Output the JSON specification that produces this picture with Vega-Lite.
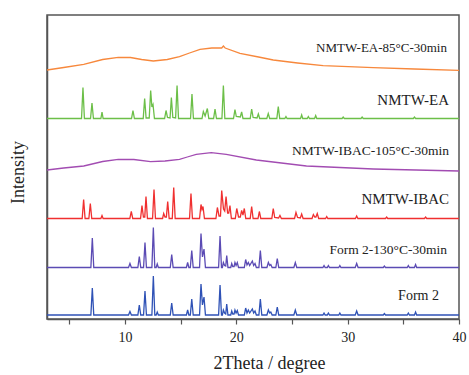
{
  "$schema": "https://vega.github.io/schema/vega-lite/v6.json",
  "width": 412,
  "height": 304,
  "autosize": "none",
  "padding": {"left": 47, "top": 15, "right": 10, "bottom": 56},
  "background": "white",
  "config": {
    "view": {"stroke": "#555", "strokeWidth": 1.5},
    "font": "Liberation Serif"
  },
  "datasets": {
    "traces": [
      {"s":"F2","x":3,"y":4},{"s":"F2","x":6.94,"y":4},{"s":"F2","x":7.07,"y":31},{"s":"F2","x":7.2,"y":4},
      {"s":"F2","x":10.32,"y":4},{"s":"F2","x":10.45,"y":7.5},{"s":"F2","x":10.58,"y":4},
      {"s":"F2","x":11.16,"y":4},{"s":"F2","x":11.29,"y":14},{"s":"F2","x":11.42,"y":4},
      {"s":"F2","x":11.67,"y":4},{"s":"F2","x":11.8,"y":28},{"s":"F2","x":11.93,"y":4},
      {"s":"F2","x":12.42,"y":4},{"s":"F2","x":12.55,"y":43},{"s":"F2","x":12.68,"y":4},
      {"s":"F2","x":12.8,"y":4},{"s":"F2","x":12.9,"y":7},{"s":"F2","x":13.0,"y":4},
      {"s":"F2","x":14.07,"y":4},{"s":"F2","x":14.2,"y":16},{"s":"F2","x":14.33,"y":4},
      {"s":"F2","x":15.52,"y":4},{"s":"F2","x":15.63,"y":9},{"s":"F2","x":15.74,"y":4},
      {"s":"F2","x":15.87,"y":4},{"s":"F2","x":16.0,"y":20},{"s":"F2","x":16.13,"y":4},
      {"s":"F2","x":16.7,"y":4},{"s":"F2","x":16.83,"y":35},{"s":"F2","x":16.96,"y":14},{"s":"F2","x":17.1,"y":22},{"s":"F2","x":17.23,"y":4},
      {"s":"F2","x":18.41,"y":4},{"s":"F2","x":18.54,"y":34},{"s":"F2","x":18.67,"y":4},
      {"s":"F2","x":18.75,"y":4},{"s":"F2","x":18.84,"y":9},{"s":"F2","x":18.95,"y":6},
      {"s":"F2","x":19.05,"y":5},{"s":"F2","x":19.14,"y":15},{"s":"F2","x":19.25,"y":4},
      {"s":"F2","x":19.5,"y":4},{"s":"F2","x":19.59,"y":8},{"s":"F2","x":19.68,"y":5},
      {"s":"F2","x":19.8,"y":5},{"s":"F2","x":19.88,"y":9},{"s":"F2","x":19.98,"y":6},{"s":"F2","x":20.09,"y":8.5},{"s":"F2","x":20.2,"y":4},
      {"s":"F2","x":20.72,"y":4},{"s":"F2","x":20.84,"y":11},{"s":"F2","x":20.96,"y":6},{"s":"F2","x":21.08,"y":9},{"s":"F2","x":21.2,"y":6},{"s":"F2","x":21.44,"y":10},{"s":"F2","x":21.56,"y":6},{"s":"F2","x":21.68,"y":8},{"s":"F2","x":21.8,"y":4},
      {"s":"F2","x":22.03,"y":4},{"s":"F2","x":22.16,"y":20},{"s":"F2","x":22.29,"y":4},
      {"s":"F2","x":22.75,"y":4},{"s":"F2","x":22.88,"y":9},{"s":"F2","x":23.0,"y":6},{"s":"F2","x":23.1,"y":7},{"s":"F2","x":23.22,"y":4},
      {"s":"F2","x":23.55,"y":4},{"s":"F2","x":23.68,"y":12},{"s":"F2","x":23.81,"y":4},
      {"s":"F2","x":25.17,"y":4},{"s":"F2","x":25.3,"y":9},{"s":"F2","x":25.43,"y":4},
      {"s":"F2","x":27.78,"y":4},{"s":"F2","x":27.88,"y":6},{"s":"F2","x":27.98,"y":4},
      {"s":"F2","x":28.17,"y":4},{"s":"F2","x":28.27,"y":6},{"s":"F2","x":28.37,"y":4},
      {"s":"F2","x":29.2,"y":4},{"s":"F2","x":29.3,"y":6},{"s":"F2","x":29.4,"y":4},
      {"s":"F2","x":30.68,"y":4},{"s":"F2","x":30.81,"y":8},{"s":"F2","x":30.94,"y":4},
      {"s":"F2","x":33.2,"y":4},{"s":"F2","x":33.3,"y":5.5},{"s":"F2","x":33.4,"y":4},
      {"s":"F2","x":35.35,"y":4},{"s":"F2","x":35.45,"y":6},{"s":"F2","x":35.55,"y":4},
      {"s":"F2","x":36.0,"y":4},{"s":"F2","x":36.1,"y":7},{"s":"F2","x":36.2,"y":4},
      {"s":"F2","x":40,"y":4},

      {"s":"F2H","x":3,"y":51.5},{"s":"F2H","x":6.94,"y":51.5},{"s":"F2H","x":7.07,"y":81},{"s":"F2H","x":7.2,"y":51.5},
      {"s":"F2H","x":10.32,"y":51.5},{"s":"F2H","x":10.45,"y":55.5},{"s":"F2H","x":10.58,"y":51.5},
      {"s":"F2H","x":11.16,"y":51.5},{"s":"F2H","x":11.29,"y":62.5},{"s":"F2H","x":11.42,"y":51.5},
      {"s":"F2H","x":11.67,"y":51.5},{"s":"F2H","x":11.8,"y":76.5},{"s":"F2H","x":11.93,"y":51.5},
      {"s":"F2H","x":12.42,"y":51.5},{"s":"F2H","x":12.55,"y":91.5},{"s":"F2H","x":12.68,"y":51.5},
      {"s":"F2H","x":12.8,"y":51.5},{"s":"F2H","x":12.9,"y":55},{"s":"F2H","x":13.0,"y":51.5},
      {"s":"F2H","x":14.07,"y":51.5},{"s":"F2H","x":14.2,"y":64.5},{"s":"F2H","x":14.33,"y":51.5},
      {"s":"F2H","x":15.52,"y":51.5},{"s":"F2H","x":15.63,"y":56.5},{"s":"F2H","x":15.74,"y":51.5},
      {"s":"F2H","x":15.87,"y":51.5},{"s":"F2H","x":16.0,"y":68.5},{"s":"F2H","x":16.13,"y":51.5},
      {"s":"F2H","x":16.7,"y":51.5},{"s":"F2H","x":16.83,"y":85.5},{"s":"F2H","x":16.96,"y":62},{"s":"F2H","x":17.1,"y":70},{"s":"F2H","x":17.23,"y":51.5},
      {"s":"F2H","x":18.41,"y":51.5},{"s":"F2H","x":18.54,"y":83},{"s":"F2H","x":18.67,"y":51.5},
      {"s":"F2H","x":18.75,"y":51.5},{"s":"F2H","x":18.84,"y":56.5},{"s":"F2H","x":18.95,"y":53.5},
      {"s":"F2H","x":19.05,"y":53},{"s":"F2H","x":19.14,"y":63.5},{"s":"F2H","x":19.25,"y":51.5},
      {"s":"F2H","x":19.5,"y":51.5},{"s":"F2H","x":19.59,"y":55.5},{"s":"F2H","x":19.68,"y":52.5},
      {"s":"F2H","x":19.8,"y":52.5},{"s":"F2H","x":19.88,"y":56.5},{"s":"F2H","x":19.98,"y":53.5},{"s":"F2H","x":20.09,"y":56.5},{"s":"F2H","x":20.2,"y":51.5},
      {"s":"F2H","x":20.72,"y":51.5},{"s":"F2H","x":20.84,"y":59.5},{"s":"F2H","x":20.96,"y":54},{"s":"F2H","x":21.08,"y":56.5},{"s":"F2H","x":21.2,"y":53.5},{"s":"F2H","x":21.44,"y":58},{"s":"F2H","x":21.56,"y":53.5},{"s":"F2H","x":21.68,"y":55.5},{"s":"F2H","x":21.8,"y":51.5},
      {"s":"F2H","x":22.03,"y":51.5},{"s":"F2H","x":22.16,"y":68.5},{"s":"F2H","x":22.29,"y":51.5},
      {"s":"F2H","x":22.75,"y":51.5},{"s":"F2H","x":22.88,"y":56.5},{"s":"F2H","x":23.0,"y":53.5},{"s":"F2H","x":23.1,"y":54.5},{"s":"F2H","x":23.22,"y":51.5},
      {"s":"F2H","x":23.55,"y":51.5},{"s":"F2H","x":23.68,"y":60.5},{"s":"F2H","x":23.81,"y":51.5},
      {"s":"F2H","x":25.17,"y":51.5},{"s":"F2H","x":25.3,"y":56.5},{"s":"F2H","x":25.43,"y":51.5},
      {"s":"F2H","x":27.78,"y":51.5},{"s":"F2H","x":27.88,"y":53.5},{"s":"F2H","x":27.98,"y":51.5},
      {"s":"F2H","x":28.17,"y":51.5},{"s":"F2H","x":28.27,"y":53.5},{"s":"F2H","x":28.37,"y":51.5},
      {"s":"F2H","x":29.2,"y":51.5},{"s":"F2H","x":29.3,"y":53.5},{"s":"F2H","x":29.4,"y":51.5},
      {"s":"F2H","x":30.68,"y":51.5},{"s":"F2H","x":30.81,"y":55.5},{"s":"F2H","x":30.94,"y":51.5},
      {"s":"F2H","x":33.2,"y":51.5},{"s":"F2H","x":33.3,"y":53},{"s":"F2H","x":33.4,"y":51.5},
      {"s":"F2H","x":35.35,"y":51.5},{"s":"F2H","x":35.45,"y":53.5},{"s":"F2H","x":35.55,"y":51.5},
      {"s":"F2H","x":36.0,"y":51.5},{"s":"F2H","x":36.1,"y":54.5},{"s":"F2H","x":36.2,"y":51.5},
      {"s":"F2H","x":40,"y":51.5},

      {"s":"IBAC","x":3,"y":100.5},
      {"s":"IBAC","x":6.16,"y":100.5},{"s":"IBAC","x":6.29,"y":119.5},{"s":"IBAC","x":6.42,"y":100.5},
      {"s":"IBAC","x":6.76,"y":100.5},{"s":"IBAC","x":6.89,"y":115.5},{"s":"IBAC","x":7.02,"y":100.5},
      {"s":"IBAC","x":7.84,"y":100.5},{"s":"IBAC","x":7.94,"y":103.5},{"s":"IBAC","x":8.04,"y":100.5},
      {"s":"IBAC","x":10.44,"y":100.5},{"s":"IBAC","x":10.57,"y":107.5},{"s":"IBAC","x":10.7,"y":100.5},
      {"s":"IBAC","x":11.4,"y":100.5},{"s":"IBAC","x":11.53,"y":113.5},{"s":"IBAC","x":11.66,"y":102},{"s":"IBAC","x":11.78,"y":102},{"s":"IBAC","x":11.89,"y":122.5},{"s":"IBAC","x":12.02,"y":100.5},
      {"s":"IBAC","x":12.48,"y":100.5},{"s":"IBAC","x":12.61,"y":129.5},{"s":"IBAC","x":12.74,"y":100.5},
      {"s":"IBAC","x":13.38,"y":100.5},{"s":"IBAC","x":13.48,"y":105.5},{"s":"IBAC","x":13.6,"y":102},{"s":"IBAC","x":13.72,"y":102},{"s":"IBAC","x":13.84,"y":117.5},{"s":"IBAC","x":13.97,"y":100.5},
      {"s":"IBAC","x":14.25,"y":100.5},{"s":"IBAC","x":14.38,"y":131.5},{"s":"IBAC","x":14.51,"y":100.5},
      {"s":"IBAC","x":15.8,"y":100.5},{"s":"IBAC","x":15.93,"y":125.5},{"s":"IBAC","x":16.06,"y":100.5},
      {"s":"IBAC","x":16.7,"y":100.5},{"s":"IBAC","x":16.83,"y":114.5},{"s":"IBAC","x":16.92,"y":109.5},{"s":"IBAC","x":17.01,"y":112.5},{"s":"IBAC","x":17.14,"y":100.5},
      {"s":"IBAC","x":18.17,"y":100.5},{"s":"IBAC","x":18.3,"y":111.5},{"s":"IBAC","x":18.45,"y":103},{"s":"IBAC","x":18.58,"y":103},{"s":"IBAC","x":18.69,"y":128.5},{"s":"IBAC","x":18.85,"y":110},{"s":"IBAC","x":18.96,"y":108},{"s":"IBAC","x":19.08,"y":122.5},{"s":"IBAC","x":19.22,"y":106},{"s":"IBAC","x":19.32,"y":106},{"s":"IBAC","x":19.43,"y":113.5},{"s":"IBAC","x":19.56,"y":100.5},
      {"s":"IBAC","x":19.91,"y":100.5},{"s":"IBAC","x":20.04,"y":110.5},{"s":"IBAC","x":20.2,"y":102},{"s":"IBAC","x":20.36,"y":102},{"s":"IBAC","x":20.48,"y":108.5},{"s":"IBAC","x":20.6,"y":104},{"s":"IBAC","x":20.72,"y":110.5},{"s":"IBAC","x":20.85,"y":100.5},
      {"s":"IBAC","x":21.25,"y":100.5},{"s":"IBAC","x":21.38,"y":112.5},{"s":"IBAC","x":21.51,"y":100.5},
      {"s":"IBAC","x":21.95,"y":100.5},{"s":"IBAC","x":22.07,"y":107.5},{"s":"IBAC","x":22.2,"y":100.5},
      {"s":"IBAC","x":23.19,"y":100.5},{"s":"IBAC","x":23.32,"y":110.5},{"s":"IBAC","x":23.45,"y":101.5},{"s":"IBAC","x":23.8,"y":101},{"s":"IBAC","x":23.92,"y":103.5},{"s":"IBAC","x":24.05,"y":100.5},
      {"s":"IBAC","x":25.23,"y":100.5},{"s":"IBAC","x":25.36,"y":106.5},{"s":"IBAC","x":25.5,"y":101.5},{"s":"IBAC","x":25.75,"y":101},{"s":"IBAC","x":25.87,"y":105},{"s":"IBAC","x":26.0,"y":100.5},
      {"s":"IBAC","x":26.8,"y":100.5},{"s":"IBAC","x":26.92,"y":104.5},{"s":"IBAC","x":27.05,"y":102},{"s":"IBAC","x":27.15,"y":102},{"s":"IBAC","x":27.27,"y":105.5},{"s":"IBAC","x":27.4,"y":100.5},
      {"s":"IBAC","x":28.02,"y":100.5},{"s":"IBAC","x":28.12,"y":102.5},{"s":"IBAC","x":28.22,"y":100.5},
      {"s":"IBAC","x":30.7,"y":100.5},{"s":"IBAC","x":30.81,"y":103},{"s":"IBAC","x":30.92,"y":100.5},
      {"s":"IBAC","x":33.4,"y":100.5},{"s":"IBAC","x":33.5,"y":102},{"s":"IBAC","x":33.6,"y":100.5},
      {"s":"IBAC","x":36.9,"y":100.5},{"s":"IBAC","x":37.0,"y":102},{"s":"IBAC","x":37.1,"y":100.5},
      {"s":"IBAC","x":40,"y":100.5},

      {"s":"IBACH","x":3,"y":149},{"s":"IBACH","x":4.5,"y":151},{"s":"IBACH","x":6.3,"y":153},{"s":"IBACH","x":8.0,"y":157.5},
      {"s":"IBACH","x":9.4,"y":159.7},{"s":"IBACH","x":10.8,"y":159.5},{"s":"IBACH","x":12.3,"y":157.3},{"s":"IBACH","x":13.6,"y":158},
      {"s":"IBACH","x":14.9,"y":159.7},{"s":"IBACH","x":15.6,"y":162},{"s":"IBACH","x":16.4,"y":164.7},{"s":"IBACH","x":17.75,"y":166.3},
      {"s":"IBACH","x":19.1,"y":164.7},{"s":"IBACH","x":21.8,"y":159},{"s":"IBACH","x":26.3,"y":153},{"s":"IBACH","x":32.3,"y":150},{"s":"IBACH","x":40,"y":148},

      {"s":"EA","x":3,"y":200.5},
      {"s":"EA","x":6.1,"y":200.5},{"s":"EA","x":6.23,"y":231.5},{"s":"EA","x":6.36,"y":200.5},
      {"s":"EA","x":6.91,"y":200.5},{"s":"EA","x":7.04,"y":216},{"s":"EA","x":7.17,"y":200.5},
      {"s":"EA","x":7.84,"y":200.5},{"s":"EA","x":7.94,"y":207},{"s":"EA","x":8.04,"y":200.5},
      {"s":"EA","x":10.59,"y":200.5},{"s":"EA","x":10.72,"y":208.5},{"s":"EA","x":10.85,"y":200.5},
      {"s":"EA","x":11.64,"y":200.5},{"s":"EA","x":11.77,"y":220.5},{"s":"EA","x":11.9,"y":201},{"s":"EA","x":12.18,"y":201},{"s":"EA","x":12.31,"y":228.5},{"s":"EA","x":12.42,"y":212},{"s":"EA","x":12.52,"y":214.5},{"s":"EA","x":12.65,"y":200.5},
      {"s":"EA","x":13.56,"y":200.5},{"s":"EA","x":13.69,"y":208.5},{"s":"EA","x":13.82,"y":201.5},{"s":"EA","x":14.05,"y":201},{"s":"EA","x":14.17,"y":221.5},{"s":"EA","x":14.3,"y":201.5},{"s":"EA","x":14.55,"y":201},{"s":"EA","x":14.68,"y":233.5},{"s":"EA","x":14.81,"y":200.5},
      {"s":"EA","x":15.89,"y":200.5},{"s":"EA","x":16.02,"y":225},{"s":"EA","x":16.15,"y":200.5},
      {"s":"EA","x":16.92,"y":200.5},{"s":"EA","x":17.04,"y":207.5},{"s":"EA","x":17.2,"y":203},{"s":"EA","x":17.4,"y":210.5},{"s":"EA","x":17.53,"y":200.5},
      {"s":"EA","x":17.96,"y":200.5},{"s":"EA","x":18.09,"y":210},{"s":"EA","x":18.22,"y":200.5},
      {"s":"EA","x":18.71,"y":200.5},{"s":"EA","x":18.84,"y":233.5},{"s":"EA","x":18.97,"y":200.5},
      {"s":"EA","x":19.75,"y":200.5},{"s":"EA","x":19.88,"y":209.5},{"s":"EA","x":20.0,"y":202.5},{"s":"EA","x":20.36,"y":202},{"s":"EA","x":20.48,"y":207},{"s":"EA","x":20.6,"y":200.5},
      {"s":"EA","x":21.25,"y":200.5},{"s":"EA","x":21.38,"y":210},{"s":"EA","x":21.51,"y":201.5},{"s":"EA","x":21.86,"y":201},{"s":"EA","x":21.98,"y":205},{"s":"EA","x":22.1,"y":200.5},
      {"s":"EA","x":22.74,"y":200.5},{"s":"EA","x":22.87,"y":205.5},{"s":"EA","x":23.0,"y":200.5},
      {"s":"EA","x":23.64,"y":200.5},{"s":"EA","x":23.77,"y":212.5},{"s":"EA","x":23.9,"y":200.5},
      {"s":"EA","x":24.36,"y":200.5},{"s":"EA","x":24.46,"y":202.5},{"s":"EA","x":24.56,"y":200.5},
      {"s":"EA","x":25.77,"y":200.5},{"s":"EA","x":25.87,"y":204},{"s":"EA","x":25.97,"y":200.5},
      {"s":"EA","x":26.37,"y":200.5},{"s":"EA","x":26.47,"y":202.5},{"s":"EA","x":26.57,"y":200.5},
      {"s":"EA","x":27.03,"y":200.5},{"s":"EA","x":27.13,"y":203.5},{"s":"EA","x":27.23,"y":200.5},
      {"s":"EA","x":29.5,"y":200.5},{"s":"EA","x":29.6,"y":202},{"s":"EA","x":29.7,"y":200.5},
      {"s":"EA","x":31.2,"y":200.5},{"s":"EA","x":31.3,"y":202},{"s":"EA","x":31.4,"y":200.5},
      {"s":"EA","x":35.9,"y":200.5},{"s":"EA","x":36.0,"y":202},{"s":"EA","x":36.1,"y":200.5},
      {"s":"EA","x":40,"y":200.5},

      {"s":"EAH","x":3,"y":249},{"s":"EAH","x":4.5,"y":251.5},{"s":"EAH","x":6.3,"y":254.7},{"s":"EAH","x":8.0,"y":259.5},
      {"s":"EAH","x":9.4,"y":261.7},{"s":"EAH","x":10.5,"y":261.5},{"s":"EAH","x":11.5,"y":259.5},{"s":"EAH","x":12.55,"y":258},
      {"s":"EAH","x":13.8,"y":259.5},{"s":"EAH","x":14.9,"y":262.3},{"s":"EAH","x":15.8,"y":266},{"s":"EAH","x":16.74,"y":269.7},
      {"s":"EAH","x":17.8,"y":271},{"s":"EAH","x":18.69,"y":271},{"s":"EAH","x":18.84,"y":273},{"s":"EAH","x":19.0,"y":271},
      {"s":"EAH","x":20.33,"y":265.7},{"s":"EAH","x":22.0,"y":262},{"s":"EAH","x":23.32,"y":259},{"s":"EAH","x":25.5,"y":256},
      {"s":"EAH","x":27.8,"y":253.3},{"s":"EAH","x":32.3,"y":251.3},{"s":"EAH","x":36,"y":250},{"s":"EAH","x":40,"y":248.7}
    ],
    "labels": [
      {"label":"NMTW-EA-85°C-30min","x":38.92,"y":271,"size":13},
      {"label":"NMTW-EA","x":39.1,"y":219,"size":15},
      {"label":"NMTW-IBAC-105°C-30min","x":39.1,"y":168.3,"size":13.5},
      {"label":"NMTW-IBAC","x":39.1,"y":119.7,"size":15},
      {"label":"Form 2-130°C-30min","x":38.92,"y":69,"size":13.5},
      {"label":"Form 2","x":38.2,"y":23,"size":14}
    ]
  },
  "layer": [
    {
      "data": {"name": "traces"},
      "mark": {"type": "line", "strokeWidth": 1.3, "clip": true},
      "encoding": {
        "x": {
          "field": "x", "type": "quantitative",
          "scale": {"domain": [3, 40], "nice": false, "zero": false},
          "axis": {
            "title": "2Theta / degree",
            "values": [5, 10, 15, 20, 25, 30, 35, 40],
            "labelExpr": "datum.value % 10 == 0 ? datum.label : ''",
            "grid": false,
            "domainColor": "#555", "domainWidth": 1.5,
            "tickColor": "#555", "tickSize": 5, "tickWidth": 1.2,
            "labelFont": "Liberation Serif", "labelFontSize": 14, "labelColor": "#222", "labelPadding": 6,
            "labelFlush": false,
            "titleFont": "Liberation Serif", "titleFontSize": 18, "titleFontWeight": "normal", "titleColor": "#222",
            "titleX": 222, "titleY": 44, "titleBaseline": "middle", "titleAlign": "center"
          }
        },
        "y": {
          "field": "y", "type": "quantitative",
          "scale": {"domain": [0, 304], "nice": false, "zero": false},
          "axis": {
            "title": "Intensity",
            "labels": false, "ticks": false, "grid": false,
            "domainColor": "#555", "domainWidth": 1.5,
            "titleFont": "Liberation Serif", "titleFontSize": 18, "titleFontWeight": "normal", "titleColor": "#222",
            "titleX": -29, "titleY": 157, "titleBaseline": "middle", "titleAlign": "center", "titleAngle": -90
          }
        },
        "color": {
          "field": "s", "type": "nominal", "legend": null,
          "scale": {
            "domain": ["F2", "F2H", "IBAC", "IBACH", "EA", "EAH"],
            "range": ["#2f52b6", "#5b4bb4", "#f03030", "#a24cb2", "#6cbf48", "#f7883c"]
          }
        },
        "detail": {"field": "s"}
      }
    },
    {
      "data": {"name": "labels"},
      "mark": {"type": "text", "align": "right", "baseline": "middle", "font": "Liberation Serif", "color": "#222"},
      "encoding": {
        "x": {"field": "x", "type": "quantitative"},
        "y": {"field": "y", "type": "quantitative"},
        "text": {"field": "label"},
        "size": {"field": "size", "type": "quantitative", "scale": null}
      }
    }
  ]
}
